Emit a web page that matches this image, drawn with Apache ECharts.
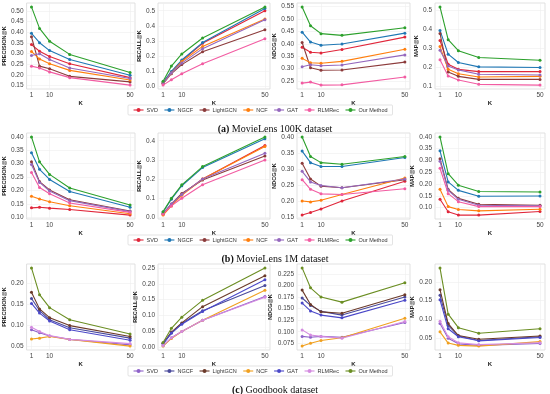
<!DOCTYPE html>
<html><head><meta charset="utf-8">
<script src="https://cdn.jsdelivr.net/npm/echarts@6/dist/echarts.min.js"></script>
<style>html,body{margin:0;padding:0;background:#fff}#c{width:550px;height:394px}</style>
</head><body><div id="c"></div>
<script>
const K = [1, 5, 10, 20, 50];
const methods = ['SVD', 'NGCF', 'LightGCN', 'NCF', 'GAT', 'RLMRec', 'Our Method'];
const kTicks = [1, 10, 50];

// MovieLens 100K  (rows: SVD, NGCF, LightGCN, NCF, GAT, RLMRec, Our Method)
const ml100kPrecision = [
  [0.342, 0.311, 0.286, 0.252, 0.187],
  [0.395, 0.351, 0.314, 0.272, 0.198],
  [0.379, 0.241, 0.229, 0.193, 0.167],
  [0.310, 0.274, 0.252, 0.221, 0.176],
  [0.291, 0.299, 0.272, 0.232, 0.183],
  [0.241, 0.232, 0.214, 0.187, 0.152],
  [0.519, 0.418, 0.358, 0.296, 0.211]];
const ml100kRecall = [
  [0.025, 0.095, 0.170, 0.285, 0.500],
  [0.030, 0.100, 0.175, 0.290, 0.515],
  [0.020, 0.085, 0.145, 0.230, 0.375],
  [0.020, 0.090, 0.165, 0.265, 0.445],
  [0.020, 0.090, 0.155, 0.250, 0.440],
  [0.010, 0.045, 0.085, 0.150, 0.315],
  [0.035, 0.135, 0.215, 0.320, 0.525]];
const ml100kNdcg = [
  [0.386, 0.366, 0.363, 0.377, 0.427],
  [0.447, 0.407, 0.394, 0.399, 0.443],
  [0.405, 0.303, 0.293, 0.294, 0.326],
  [0.341, 0.323, 0.321, 0.329, 0.378],
  [0.307, 0.315, 0.311, 0.314, 0.355],
  [0.241, 0.245, 0.233, 0.234, 0.266],
  [0.549, 0.473, 0.441, 0.434, 0.465]];
const ml100kMap = [
  [0.342, 0.217, 0.190, 0.178, 0.178],
  [0.395, 0.270, 0.226, 0.203, 0.200],
  [0.379, 0.176, 0.153, 0.137, 0.137],
  [0.310, 0.190, 0.167, 0.150, 0.153],
  [0.291, 0.208, 0.187, 0.164, 0.160],
  [0.241, 0.155, 0.134, 0.111, 0.107],
  [0.519, 0.346, 0.288, 0.252, 0.238]];

// MovieLens 1M
const ml1mPrecision = [
  [0.135, 0.137, 0.134, 0.129, 0.108],
  [0.341, 0.279, 0.241, 0.196, 0.137],
  [0.307, 0.233, 0.202, 0.165, 0.123],
  [0.178, 0.168, 0.158, 0.143, 0.113],
  [0.297, 0.230, 0.198, 0.162, 0.121],
  [0.267, 0.211, 0.188, 0.153, 0.118],
  [0.400, 0.307, 0.260, 0.209, 0.146]];
const ml1mRecall = [
  [0.015, 0.065, 0.120, 0.200, 0.375],
  [0.028, 0.095, 0.165, 0.260, 0.410],
  [0.020, 0.070, 0.125, 0.195, 0.320],
  [0.012, 0.060, 0.115, 0.200, 0.370],
  [0.020, 0.070, 0.120, 0.200, 0.335],
  [0.018, 0.060, 0.100, 0.170, 0.300],
  [0.030, 0.100, 0.170, 0.265, 0.420]];
const ml1mNdcg = [
  [0.157, 0.165, 0.176, 0.201, 0.262],
  [0.356, 0.320, 0.308, 0.308, 0.336],
  [0.318, 0.269, 0.247, 0.242, 0.267],
  [0.201, 0.198, 0.203, 0.221, 0.272],
  [0.293, 0.260, 0.249, 0.242, 0.269],
  [0.267, 0.237, 0.223, 0.221, 0.239],
  [0.400, 0.339, 0.320, 0.315, 0.339]];
const ml1mMap = [
  [0.135, 0.082, 0.068, 0.068, 0.083],
  [0.341, 0.209, 0.173, 0.148, 0.149],
  [0.307, 0.177, 0.139, 0.114, 0.110],
  [0.178, 0.104, 0.092, 0.086, 0.093],
  [0.297, 0.173, 0.135, 0.110, 0.107],
  [0.267, 0.159, 0.125, 0.104, 0.104],
  [0.400, 0.244, 0.195, 0.168, 0.166]];

// Goodbook
const gbPrecision = [
  [0.089, 0.082, 0.074, 0.066, 0.053],
  [0.164, 0.135, 0.113, 0.094, 0.069],
  [0.179, 0.139, 0.118, 0.099, 0.073],
  [0.067, 0.069, 0.073, 0.066, 0.050],
  [0.152, 0.129, 0.110, 0.089, 0.064],
  [0.095, 0.085, 0.075, 0.066, 0.056],
  [0.237, 0.173, 0.142, 0.113, 0.079]];
const gbRecall = [
  [0.005, 0.030, 0.050, 0.085, 0.160],
  [0.012, 0.045, 0.075, 0.115, 0.195],
  [0.013, 0.048, 0.077, 0.128, 0.225],
  [0.004, 0.028, 0.050, 0.085, 0.180],
  [0.011, 0.045, 0.073, 0.113, 0.213],
  [0.006, 0.030, 0.050, 0.085, 0.158],
  [0.015, 0.060, 0.095, 0.148, 0.250]];
const gbNdcg = [
  [0.090, 0.088, 0.090, 0.088, 0.120],
  [0.173, 0.157, 0.144, 0.136, 0.175],
  [0.190, 0.159, 0.143, 0.140, 0.180],
  [0.069, 0.075, 0.081, 0.087, 0.129],
  [0.162, 0.145, 0.136, 0.130, 0.168],
  [0.104, 0.093, 0.090, 0.086, 0.122],
  [0.238, 0.195, 0.175, 0.164, 0.206]];
const gbMap = [
  [0.089, 0.050, 0.035, 0.031, 0.036],
  [0.164, 0.084, 0.056, 0.044, 0.054],
  [0.179, 0.089, 0.057, 0.047, 0.056],
  [0.067, 0.037, 0.031, 0.029, 0.041],
  [0.152, 0.075, 0.054, 0.043, 0.052],
  [0.095, 0.054, 0.038, 0.033, 0.038],
  [0.237, 0.114, 0.078, 0.063, 0.075]];

// y tick labels
const ml100kTicks = [[0.15,0.20,0.25,0.30,0.35,0.40,0.45,0.50],[0.0,0.1,0.2,0.3,0.4,0.5],[0.25,0.30,0.35,0.40,0.45,0.50,0.55],[0.1,0.2,0.3,0.4,0.5]];
const ml1mTicks = [[0.10,0.15,0.20,0.25,0.30,0.35,0.40],[0.0,0.1,0.2,0.3,0.4],[0.15,0.20,0.25,0.30,0.35,0.40],[0.10,0.15,0.20,0.25,0.30,0.35,0.40]];
const gbTicks = [[0.05,0.10,0.15,0.20],[0.00,0.05,0.10,0.15,0.20,0.25],[0.075,0.100,0.125,0.150,0.175,0.200,0.225,0.250],[0.05,0.10,0.15,0.20]];
const tickDecimals = [[2,1,2,1],[2,1,2,2],[2,2,3,2]];

const metricNames = ['PRECISION@K', 'RECALL@K', 'NDCG@K', 'MAP@K'];
const captions = [['(a)', 'MovieLens 100K dataset'], ['(b)', 'MovieLens 1M dataset'], ['(c)', 'Goodbook dataset']];

const paletteML = ['#e0263a', '#1f77b4', '#8c3b3b', '#ff7f0e', '#9467bd', '#f25ca2', '#2ca02c'];
const paletteGB = ['#8e62c9', '#4a4a9c', '#6b3a2a', '#f0a020', '#4b48c8', '#d48be0', '#6b8e23'];

const rows = [
  {data: [ml100kPrecision, ml100kRecall, ml100kNdcg, ml100kMap], ticks: ml100kTicks, pal: paletteML},
  {data: [ml1mPrecision, ml1mRecall, ml1mNdcg, ml1mMap], ticks: ml1mTicks, pal: paletteML},
  {data: [gbPrecision, gbRecall, gbNdcg, gbMap], ticks: gbTicks, pal: paletteGB}];

const rowTop = [3, 133, 264];
const plotH = 86;
const colLeft = [23, 158, 297, 435];
const colW = [112, 112, 113, 110];
const legendTop = [105, 235, 366];
const captionTop = [119, 249, 380];

const FONT = 'Liberation Sans, Arial, sans-serif';
const grid = [], xAxis = [], yAxis = [], series = [], legend = [], title = [];

rows.forEach((row, r) => {
  row.data.forEach((mat, c) => {
    const idx = r * 4 + c;
    grid.push({left: colLeft[c], top: rowTop[r], width: colW[c], height: plotH,
      show: true, borderColor: '#d9d9d9', borderWidth: 0.8, backgroundColor: '#fff'});
    let lo = Infinity, hi = -Infinity;
    mat.forEach(a => a.forEach(v => { lo = Math.min(lo, v); hi = Math.max(hi, v); }));
    const pad = (hi - lo) * 0.05;
    const dec = tickDecimals[r][c];
    xAxis.push({type: 'value', gridIndex: idx, min: -1.45, max: 52.45,
      name: 'K', nameLocation: 'middle', nameGap: 11,
      nameTextStyle: {fontSize: 6, fontWeight: 'bold', color: '#222', fontFamily: FONT},
      axisLine: {show: false}, axisTick: {show: false, customValues: kTicks},
      axisLabel: {customValues: kTicks, fontSize: 6.5, color: '#444', margin: 3, fontFamily: FONT},
      splitLine: {show: true, lineStyle: {color: '#eeeeee', width: 0.6}}});
    yAxis.push({type: 'value', gridIndex: idx, min: lo - pad, max: hi + pad,
      name: metricNames[c], nameLocation: 'middle', nameGap: dec === 3 ? 19 : 16, nameRotate: 90,
      nameTextStyle: {fontSize: 5.5, fontWeight: 'bold', color: '#222', fontFamily: FONT},
      axisLine: {show: false}, axisTick: {show: false, customValues: row.ticks[c]},
      axisLabel: {customValues: row.ticks[c], fontSize: 6.5, color: '#444', margin: 3, fontFamily: FONT,
        formatter: v => v.toFixed(dec)},
      splitLine: {show: true, lineStyle: {color: '#eeeeee', width: 0.6}}});
    mat.forEach((vals, m) => {
      series.push({type: 'line', name: methods[m], xAxisIndex: idx, yAxisIndex: idx,
        data: K.map((k, i) => [k, vals[i]]),
        symbol: 'circle', symbolSize: 3, showSymbol: true,
        lineStyle: {width: 1.1, color: row.pal[m]}, itemStyle: {color: row.pal[m]},
        emphasis: {disabled: true}, animation: false, z: 2 + m});
    });
  });
  legend.push({top: legendTop[r], left: 128, orient: 'horizontal',
    itemWidth: 10, itemHeight: 5, itemGap: 6, padding: [2, 5, 2, 5],
    borderColor: '#d0d0d0', borderWidth: 0.6, borderRadius: 1,
    textStyle: {fontSize: 5.5, color: '#333', fontFamily: FONT, padding: [0, 0, 0, -2]},
    selectedMode: false,
    data: methods.map((n, m) => ({name: n,
      itemStyle: {color: row.pal[m]}, lineStyle: {color: row.pal[m], width: 1.1}}))});
  title.push({text: '{b|' + captions[r][0] + '} ' + captions[r][1], left: 'center', top: captionTop[r],
    textStyle: {fontSize: 10, fontWeight: 'normal', color: '#111', fontFamily: 'Liberation Serif, Times New Roman, serif',
      rich: {b: {fontSize: 10, fontWeight: 'bold', fontFamily: 'Liberation Serif, Times New Roman, serif'}}}});
});

const chart = echarts.init(document.getElementById('c'), null, {renderer: 'canvas'});
chart.setOption({animation: false, backgroundColor: '#fff', grid, xAxis, yAxis, series, legend, title});
</script>
</body></html>
